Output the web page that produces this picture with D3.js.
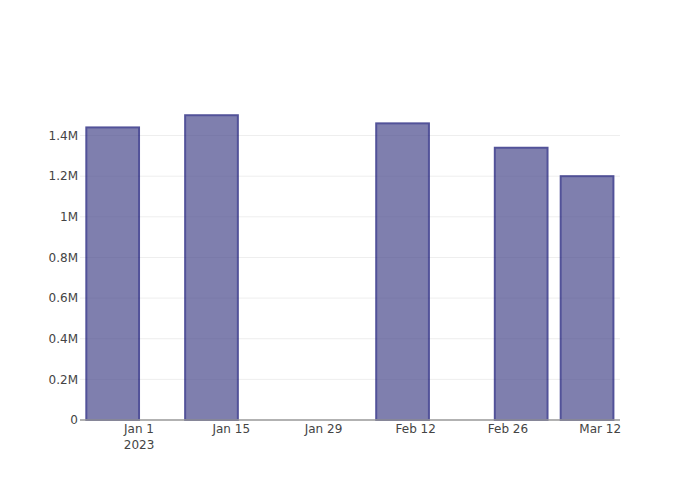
<!DOCTYPE html>
<html>
<head>
<meta charset="utf-8">
<script src="https://cdn.jsdelivr.net/npm/d3@7"></script>
<style>
  body { margin: 0; background: #fff; }
  text { font-family: "DejaVu Sans", "Open Sans", sans-serif; }
</style>
</head>
<body>
<svg id="chart" width="700" height="500"></svg>
<script>
// Bar dates and values
const dates = ["2022-12-28", "2023-01-12", "2023-02-10", "2023-02-28", "2023-03-10"];
const values = [1440000, 1500000, 1460000, 1340000, 1200000];
const yTicks = [0, 200000, 400000, 600000, 800000, 1000000, 1200000, 1400000];
const xTickDates = ["2023-01-01", "2023-01-15", "2023-01-29", "2023-02-12", "2023-02-26", "2023-03-12"];

const width = 700, height = 500;
const margin = {top: 100, right: 80, bottom: 80, left: 80};

const parse = d3.utcParse("%Y-%m-%d");
const svg = d3.select("#chart");

const x = d3.scaleUtc()
    .domain([new Date(Date.UTC(2022, 11, 23, 1)), new Date(Date.UTC(2023, 2, 15))])
    .range([margin.left, width - margin.right]);

const y = d3.scaleLinear()
    .domain([0, 1575000])
    .range([height - margin.bottom, margin.top]);

const fmtY = d => d === 0 ? "0" : (d / 1e6).toString() + "M";

// grid lines
svg.append("g")
    .selectAll("line")
    .data(yTicks.filter(d => d > 0))
    .join("line")
    .attr("x1", margin.left)
    .attr("x2", width - margin.right)
    .attr("y1", d => y(d))
    .attr("y2", d => y(d))
    .attr("stroke", "#eee")
    .attr("stroke-width", 1);

// bars, 8 days wide
const dayMs = 24 * 3600 * 1000;
const halfW = 4 * dayMs;
svg.append("g")
    .attr("opacity", 0.7)
    .selectAll("rect")
    .data(dates.map((d, i) => ({date: parse(d), value: values[i]})))
    .join("rect")
    .attr("x", d => x(new Date(d.date.getTime() - halfW)))
    .attr("width", d => x(new Date(d.date.getTime() + halfW)) - x(new Date(d.date.getTime() - halfW)))
    .attr("y", d => y(d.value))
    .attr("height", d => y(0) - y(d.value))
    .attr("fill", "rgb(74,74,141)")
    .attr("stroke", "rgb(10,10,110)")
    .attr("stroke-width", 2);

// bottom axis line
svg.append("line")
    .attr("x1", margin.left)
    .attr("x2", width - margin.right)
    .attr("y1", y(0))
    .attr("y2", y(0))
    .attr("stroke", "#999")
    .attr("stroke-width", 1.5);

// y tick labels
svg.append("g")
    .selectAll("text")
    .data(yTicks)
    .join("text")
    .attr("x", margin.left - 2)
    .attr("y", d => y(d))
    .attr("dy", "0.35em")
    .attr("text-anchor", "end")
    .attr("font-size", 12)
    .attr("fill", "#444")
    .text(fmtY);

// x tick labels
const fmtX = d3.utcFormat("%b %-d");
const xg = svg.append("g");
xTickDates.forEach((s, i) => {
    const dt = parse(s);
    xg.append("text")
        .attr("x", x(dt))
        .attr("y", y(0) + 13)
        .attr("text-anchor", "middle")
        .attr("font-size", 12)
        .attr("fill", "#444")
        .text(fmtX(dt));
    if (i === 0) {
        xg.append("text")
            .attr("x", x(dt))
            .attr("y", y(0) + 29)
            .attr("text-anchor", "middle")
            .attr("font-size", 12)
            .attr("fill", "#444")
            .text("2023");
    }
});
</script>
</body>
</html>
